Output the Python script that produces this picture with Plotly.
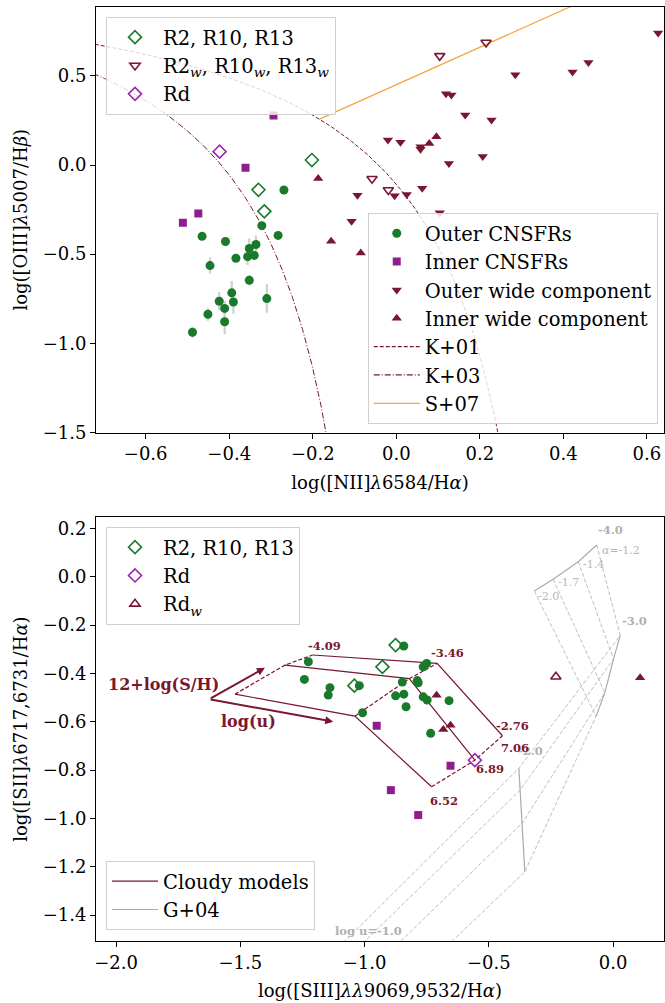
import numpy as np
import plotly.graph_objects as go

# ================= TOP PANEL: BPT diagram =================
outer_n2 = [-0.269, -0.322, -0.283, -0.465, -0.409, -0.352, -0.336, -0.384, -0.356, -0.340,
            -0.446, -0.352, -0.394, -0.424, -0.390, -0.411, -0.310, -0.451, -0.411, -0.488]
outer_o3 = [-0.140, -0.340, -0.395, -0.400, -0.429, -0.468, -0.446, -0.523, -0.514, -0.507,
            -0.564, -0.646, -0.717, -0.764, -0.768, -0.804, -0.749, -0.837, -0.879, -0.938]
outer_o3_err = [0.02, 0.0, 0.02, 0.0, 0.0, 0.056, 0.05, 0.02, 0.047, 0.02,
                0.045, 0.028, 0.066, 0.052, 0.066, 0.04, 0.08, 0.037, 0.07, 0.03]
inner_n2 = [-0.294, -0.361, -0.474, -0.511]
inner_o3 = [0.277, -0.016, -0.272, -0.324]
outw_n2 = [0.627, 0.285, 0.422, 0.460, 0.119, 0.132, 0.165, 0.228, -0.020, 0.010,
           0.058, 0.058, 0.207, 0.126, -0.093, -0.004, 0.025, 0.062, 0.104, -0.107]
outw_o3 = [0.740, 0.506, 0.521, 0.575, 0.399, 0.393, 0.281, 0.253, 0.140, 0.127,
           0.103, 0.088, 0.047, 0.009, -0.169, -0.172, -0.165, -0.131, -0.268, -0.315]
inw_n2 = [0.096, 0.079, -0.187, -0.156, -0.085]
inw_o3 = [0.159, 0.120, -0.076, -0.427, -0.493]
r_n2 = [-0.202, -0.330, -0.316]
r_o3 = [0.028, -0.139, -0.260]
rw_n2 = [0.104, 0.215, -0.058, -0.019]
rw_o3 = [0.612, 0.687, -0.077, -0.140]
rd_n2 = [-0.423]
rd_o3 = [0.075]

# demarcation curves (published coefficients)
K01 = (0.61, 0.47, 1.19)
K03 = (0.61, 0.05, 1.30)
S07 = (1.05, 0.45)

# ================= BOTTOM PANEL: [SII] vs [SIII] =================
outer_s3 = [-0.842, -1.226, -0.750, -0.764, -1.242, -1.139, -1.146, -1.021, -0.848, -0.788,
            -0.784, -0.875, -0.842, -0.833, -0.764, -0.748, -0.660, -1.008, -0.734]
outer_s2 = [-0.287, -0.352, -0.359, -0.373, -0.425, -0.459, -0.490, -0.451, -0.436, -0.430,
            -0.439, -0.493, -0.486, -0.538, -0.497, -0.510, -0.513, -0.563, -0.648]
inner_s3 = [-0.951, -0.654, -0.894, -0.784]
inner_s2 = [-0.617, -0.782, -0.883, -0.986]
inw_s3 = [-0.710, -0.654, -0.683, 0.109]
inw_s2 = [-0.491, -0.615, -0.632, -0.418]
r_s3 = [-0.875, -0.928, -1.041]
r_s2 = [-0.283, -0.373, -0.451]
rd_s3 = [-0.556]
rd_s2 = [-0.759]
rdw_s3 = [-0.230]
rdw_s2 = [-0.414]

# Cloudy model grid: rows = 12+log(S/H), columns = log(u)
cl_sh = ["6.52", "6.89", "7.06"]
cl_logu = ["-4.09", "-3.46", "-2.76"]
cl_x = [[-1.521, -1.039, -0.730],
        [-1.320, -0.820, -0.556],
        [-1.209, -0.708, -0.445]]
cl_y = [[-0.486, -0.577, -0.869],
        [-0.366, -0.422, -0.759],
        [-0.324, -0.359, -0.658]]

# G+04 grid: rows = alpha (-1.2, -1.4, -1.7, -2.0), columns = log u (-4, -3, -2, -1)
g_alpha = ["-1.2", "-1.4", "-1.7", "-2.0"]
g_logu = ["-4.0", "-3.0", "-2.0", "-1.0"]
g_x = [[-0.066, 0.029, -0.379, -1.189],
       [-0.140, 0.002, -0.374, -1.111],
       [-0.241, -0.033, -0.366, -0.966],
       [-0.317, -0.068, -0.355, -0.762]]
g_y = [[0.131, -0.243, -0.793, -1.62],
       [0.062, -0.340, -0.883, -1.62],
       [-0.011, -0.480, -1.020, -1.62],
       [-0.059, -0.577, -1.221, -1.62]]

# ================= styling =================
MAROON = "#7b1631"
GREEN = "#1a7a2c"
PURPLE = "#8f1d8f"
RDCOL = "#9b27af"
ORANGE = "#f7a440"
GRAYL = "#bdbdbd"
GRAYS = "#ababab"
FONT = "DejaVu Serif"

fig = go.Figure()

def sc(x, y, xa, ya, sym, size, color, name=None, legend=None, lw=0, err=None, open_=False):
    marker = dict(symbol=sym, size=size, color=color,
                  line=dict(width=lw if open_ else 0, color=color))
    kw = {}
    if err is not None:
        kw["error_y"] = dict(type="data", array=err, color="#cfcfcf", thickness=2.2, width=0)
    fig.add_trace(go.Scatter(x=x, y=y, xaxis=xa, yaxis=ya, mode="markers", marker=marker,
                             name=name, showlegend=name is not None,
                             legend=legend if legend else "legend", **kw))

# ---- top panel curves ----
a, b, c = K01
xk1 = np.linspace(-0.75, 0.26, 400)
fig.add_trace(go.Scatter(x=xk1, y=a / (xk1 - b) + c, mode="lines", xaxis="x", yaxis="y",
                         line=dict(color=MAROON, width=1, dash="4px,2px"),
                         showlegend=False, hoverinfo="skip"))
a3, b3, c3 = K03
xk3 = np.linspace(-0.75, -0.15, 400)
fig.add_trace(go.Scatter(x=xk3, y=a3 / (xk3 - b3) + c3, mode="lines", xaxis="x", yaxis="y",
                         line=dict(color=MAROON, width=1, dash="6px,2px,1px,2px"),
                         showlegend=False, hoverinfo="skip"))
m, q = S07
A = m
B = q - c - m * b
C = -(q - c) * b - a
xint = (-B - np.sqrt(B * B - 4 * A * C)) / (2 * A)
xs = np.array([xint, 0.7])
fig.add_trace(go.Scatter(x=xs, y=m * xs + q, mode="lines", xaxis="x", yaxis="y",
                         line=dict(color=ORANGE, width=1.2),
                         showlegend=False, hoverinfo="skip"))

# ---- top panel points ----
sc(outer_n2, outer_o3, "x", "y", "circle", 9, GREEN, "Outer CNSFRs", "legend2", err=outer_o3_err)
sc(inner_n2, inner_o3, "x", "y", "square", 8, PURPLE, "Inner CNSFRs", "legend2")
sc(outw_n2, outw_o3, "x", "y", "triangle-down", 9, MAROON, "Outer wide component", "legend2")
sc(inw_n2, inw_o3, "x", "y", "triangle-up", 9, MAROON, "Inner wide component", "legend2")
sc(r_n2, r_o3, "x", "y", "diamond-open", 10, GREEN, "R2, R10, R13", "legend", lw=1.6, open_=True)
sc(rw_n2, rw_o3, "x", "y", "triangle-down-open", 9, MAROON,
   "R2<sub><i>w</i></sub>, R10<sub><i>w</i></sub>, R13<sub><i>w</i></sub>", "legend", lw=1.6, open_=True)
sc(rd_n2, rd_o3, "x", "y", "diamond-open", 10, RDCOL, "Rd", "legend", lw=1.6, open_=True)

for nm, col, dsh in [("K+01", MAROON, "4px,2px"), ("K+03", MAROON, "6px,2px,1px,2px"), ("S+07", ORANGE, "solid")]:
    fig.add_trace(go.Scatter(x=[None], y=[None], xaxis="x", yaxis="y", mode="lines",
                             line=dict(color=col, width=1.2, dash=dsh), name=nm, legend="legend2"))

# ---- bottom panel: G+04 grid ----
for i in range(4):
    fig.add_trace(go.Scatter(x=g_x[i], y=g_y[i], xaxis="x2", yaxis="y2", mode="lines",
                             line=dict(color=GRAYL, width=1, dash="4px,2px"),
                             showlegend=False, hoverinfo="skip"))
for j in range(3):
    fig.add_trace(go.Scatter(x=[g_x[i][j] for i in range(4)], y=[g_y[i][j] for i in range(4)],
                             xaxis="x2", yaxis="y2", mode="lines",
                             line=dict(color=GRAYS, width=1.2),
                             showlegend=False, hoverinfo="skip"))

# ---- bottom panel: Cloudy grid ----
for i in range(3):
    fig.add_trace(go.Scatter(x=cl_x[i], y=cl_y[i], xaxis="x2", yaxis="y2", mode="lines",
                             line=dict(color=MAROON, width=1.2),
                             showlegend=False, hoverinfo="skip"))
for j in range(3):
    fig.add_trace(go.Scatter(x=[cl_x[i][j] for i in range(3)], y=[cl_y[i][j] for i in range(3)],
                             xaxis="x2", yaxis="y2", mode="lines",
                             line=dict(color=MAROON, width=1.2, dash="4px,2px"),
                             showlegend=False, hoverinfo="skip"))

# ---- bottom panel points ----
sc(outer_s3, outer_s2, "x2", "y2", "circle", 9, GREEN)
sc(inner_s3, inner_s2, "x2", "y2", "square", 8, PURPLE)
sc(inw_s3, inw_s2, "x2", "y2", "triangle-up", 9, MAROON)
sc(r_s3, r_s2, "x2", "y2", "diamond-open", 10, GREEN, "R2, R10, R13", "legend3", lw=1.6, open_=True)
sc(rd_s3, rd_s2, "x2", "y2", "diamond-open", 10, RDCOL, "Rd", "legend3", lw=1.6, open_=True)
sc(rdw_s3, rdw_s2, "x2", "y2", "triangle-up-open", 9, MAROON, "Rd<sub><i>w</i></sub>", "legend3", lw=1.6, open_=True)

for nm, col in [("Cloudy models", MAROON), ("G+04", GRAYS)]:
    fig.add_trace(go.Scatter(x=[None], y=[None], xaxis="x2", yaxis="y2", mode="lines",
                             line=dict(color=col, width=1.2), name=nm, legend="legend4"))

# ---- annotations ----
ann = []
def txt(x, y, t, color, size=11.5, bold=True, xanchor="center"):
    ann.append(dict(x=x, y=y, xref="x2", yref="y2", text=("<b>%s</b>" % t) if bold else t,
                    showarrow=False, font=dict(family=FONT, size=size, color=color),
                    xanchor=xanchor, yanchor="middle"))

txt(-0.010, 0.193, g_logu[0], "#b0b0b0")
txt(0.086, -0.184, g_logu[1], "#b0b0b0")
txt(-0.331, -0.721, g_logu[2], "#b0b0b0")
txt(-0.985, -1.466, "log u=" + g_logu[3], "#b0b0b0")
txt(-0.053, 0.110, "<i>α</i>=" + g_alpha[0], "#b8b8b8", size=11, bold=False, xanchor="left")
txt(-0.127, 0.049, g_alpha[1], "#b8b8b8", size=11, bold=False, xanchor="left")
txt(-0.230, -0.023, g_alpha[2], "#b8b8b8", size=11, bold=False, xanchor="left")
txt(-0.311, -0.080, g_alpha[3], "#b8b8b8", size=11, bold=False, xanchor="left")
txt(-1.162, -0.287, cl_logu[0], MAROON)
txt(-0.666, -0.317, cl_logu[1], MAROON)
txt(-0.404, -0.617, cl_logu[2], MAROON)
txt(-0.395, -0.710, cl_sh[2], MAROON)
txt(-0.496, -0.796, cl_sh[1], MAROON)
txt(-0.679, -0.928, cl_sh[0], MAROON)
txt(-1.810, -0.445, "12+log(S/H)", MAROON, size=16)
txt(-1.465, -0.600, "log(u)", MAROON, size=16)
for (hx, hy) in [(-1.401, -0.377), (-1.126, -0.600)]:
    ann.append(dict(x=hx, y=hy, ax=-1.625, ay=-0.507, xref="x2", yref="y2", axref="x2", ayref="y2",
                    text="", showarrow=True, arrowhead=2, arrowsize=0.8, arrowwidth=2,
                    arrowcolor=MAROON, standoff=0, startstandoff=0))

axis_common = dict(showline=True, linecolor="black", linewidth=1.1, mirror=True, ticks="outside",
                   ticklen=5, tickwidth=1.1, tickcolor="black", showgrid=False, zeroline=False,
                   automargin=False, tickfont=dict(family=FONT, size=18, color="black"))

top_dom = [1 - (432.5 - 7) / 934, 1]
bot_dom = [0, 1 - (517.3 - 7) / 934]

legend_common = dict(bgcolor="rgba(255,255,255,0.8)", bordercolor="#d0d0d0", borderwidth=1,
                     font=dict(family=FONT, size=19.5, color="black"), itemwidth=46)

fig.update_layout(
    width=665, height=1003,
    margin=dict(l=96, r=1, t=7, b=62, autoexpand=False),
    paper_bgcolor="white", plot_bgcolor="white",
    font=dict(family=FONT, size=18, color="black"),
    xaxis=dict(domain=[0, 1], anchor="y", range=[-0.719, 0.641],
               tickvals=[-0.6, -0.4, -0.2, 0.0, 0.2, 0.4, 0.6], tickformat=".1f",
               title=dict(text="log([NII]<i>λ</i>6584/H<i>α</i>)", standoff=13,
                          font=dict(family=FONT, size=18)), **axis_common),
    yaxis=dict(domain=top_dom, anchor="x", range=[-1.5, 0.886],
               tickvals=[-1.5, -1.0, -0.5, 0.0, 0.5], tickformat=".1f",
               title=dict(text="log([OIII]<i>λ</i>5007/H<i>β</i>)", standoff=10,
                          font=dict(family=FONT, size=18)), **axis_common),
    xaxis2=dict(domain=[0, 1], anchor="y2", range=[-2.0805, 0.205],
                tickvals=[-2.0, -1.5, -1.0, -0.5, 0.0], tickformat=".1f",
                title=dict(text="log([SIII]<i>λλ</i>9069,9532/H<i>α</i>)", standoff=12,
                           font=dict(family=FONT, size=18)), **axis_common),
    yaxis2=dict(domain=bot_dom, anchor="x2", range=[-1.507, 0.2455],
                tickvals=[-1.4, -1.2, -1.0, -0.8, -0.6, -0.4, -0.2, 0.0, 0.2], tickformat=".1f",
                title=dict(text="log([SII]<i>λ</i>6717,6731/H<i>α</i>)", standoff=10,
                           font=dict(family=FONT, size=18)), **axis_common),
    legend=dict(x=0.0176, y=0.9893, xanchor="left", yanchor="top", **legend_common),
    legend2=dict(x=0.989, y=0.5535, xanchor="right", yanchor="bottom", **legend_common),
    legend3=dict(x=0.0176, y=0.4433, xanchor="left", yanchor="top", **legend_common),
    legend4=dict(x=0.0176, y=0.0118, xanchor="left", yanchor="bottom", **legend_common),
    annotations=ann,
    showlegend=True,
)

fig.write_html("out.html", config={"displayModeBar": False},
               post_script="document.body.style.margin='0';document.body.style.overflow='hidden';")
